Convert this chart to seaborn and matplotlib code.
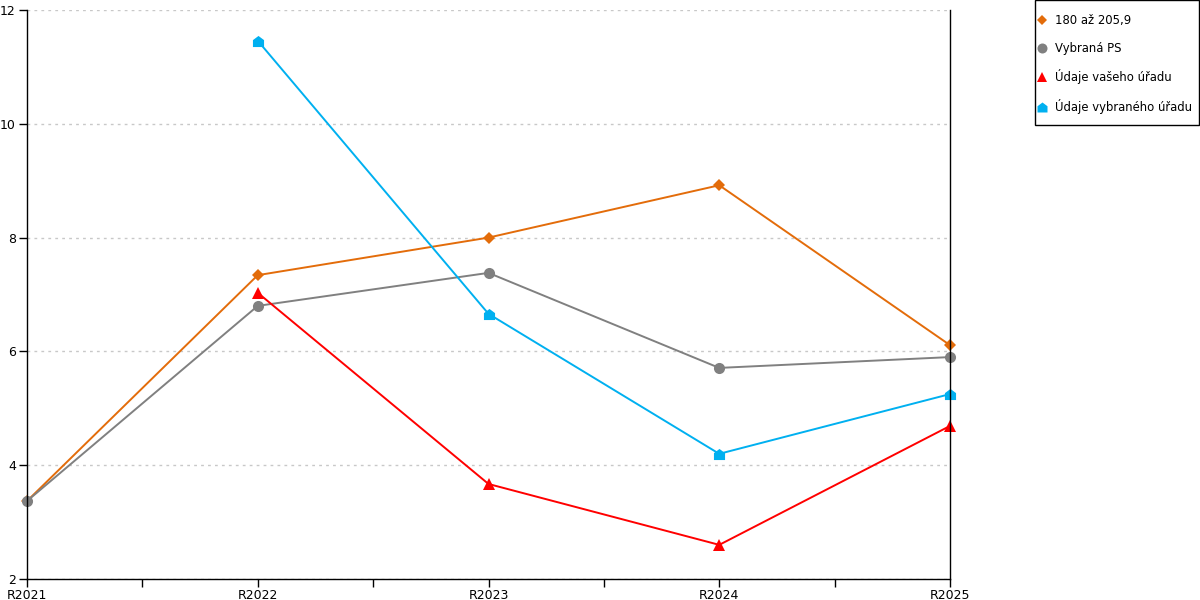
import numpy as np
import pandas as pd
import matplotlib
matplotlib.use("Agg")
import matplotlib.pyplot as plt
from matplotlib.lines import Line2D
from matplotlib.path import Path
from matplotlib.patches import Rectangle
import seaborn as sns

years = ["R2021", "R2022", "R2023", "R2024", "R2025"]
kategorie = [3.37, 7.34, 8.00, 8.92, 6.11]
vybrana_ps = [3.37, 6.80, 7.38, 5.71, 5.90]
vas_urad = [np.nan, 7.03, 3.67, 2.60, 4.69]
vybrany_urad = [np.nan, 11.46, 6.66, 4.20, 5.25]

labels = ["180 až 205,9", "Vybraná PS", "Údaje vašeho úřadu", "Údaje vybraného úřadu"]
colors = ["#E36C0A", "#808080", "#FF0000", "#00B0F0"]

house = Path([(-1, -1), (1, -1), (1, 0.25), (0, 1), (-1, 0.25), (-1, -1)],
             [Path.MOVETO, Path.LINETO, Path.LINETO, Path.LINETO, Path.LINETO, Path.CLOSEPOLY])
markers = ["D", "o", "^", house]
msizes = [6, 8, 8, 8]

sns.set_style("white")
plt.rcParams["font.family"] = ["DejaVu Sans"]
plt.rcParams["text.color"] = "black"
plt.rcParams["xtick.color"] = "black"
plt.rcParams["ytick.color"] = "black"

fig = plt.figure(figsize=(12, 6), dpi=100)
ax = fig.add_axes([27 / 1200, 21 / 600, 923 / 1200, 569 / 600])

pos = np.arange(len(years))
for vals, lab, col, mk, ms in zip([kategorie, vybrana_ps, vas_urad, vybrany_urad],
                                  labels, colors, markers, msizes):
    df = pd.DataFrame({"x": pos, "y": vals}).dropna()
    sns.lineplot(data=df, x="x", y="y", ax=ax, color=col, linewidth=1.4,
                 marker=mk, markersize=ms, markeredgewidth=0, markeredgecolor=col,
                 markerfacecolor=col, clip_on=False, zorder=3)

ax.set_xlim(0, 4)
ax.set_ylim(2, 12)
ax.set_xticks(pos)
ax.set_xticklabels(years, fontsize=9)
ax.set_xticks(pos[:-1] + 0.5, minor=True)
ax.set_yticks([2, 4, 6, 8, 10, 12])
ax.set_yticklabels(["2", "4", "6", "8", "10", "12"], fontsize=9)
ax.set_xlabel("")
ax.set_ylabel("")
ax.tick_params(axis="both", which="both", direction="out", length=6, width=1,
               color="black", labelcolor="black", pad=1,
               bottom=True, left=True, top=False, right=False)
ax.tick_params(axis="y", pad=2)

ax.yaxis.grid(True, linestyle=(0, (2, 3)), color="#C8C8C8", linewidth=1)
ax.set_axisbelow(True)

for s in ["left", "bottom", "right"]:
    ax.spines[s].set_visible(True)
    ax.spines[s].set_color("black")
    ax.spines[s].set_linewidth(1)
    ax.spines[s].set_zorder(5)
ax.spines["top"].set_visible(False)

# legend box drawn separately so the padding can match the original
fig.patches.append(Rectangle((1034.5 / 1200, 474.5 / 600), 164 / 1200, 125 / 600,
                             transform=fig.transFigure, fill=False,
                             edgecolor="black", linewidth=1))
handles = [Line2D([], [], linestyle="none", marker=mk, color=col,
                  markersize=ms * 0.9, markeredgewidth=0)
           for col, mk, ms in zip(colors, markers, msizes)]
leg = fig.legend(handles, labels, loc="upper left",
                 bbox_to_anchor=(1037 / 1200, 1 - 14 / 600),
                 fontsize=8.4, frameon=False,
                 handlelength=0.8, handletextpad=0.75, labelspacing=1.25,
                 borderpad=0, borderaxespad=0)

fig.savefig("out.png", dpi=100)
